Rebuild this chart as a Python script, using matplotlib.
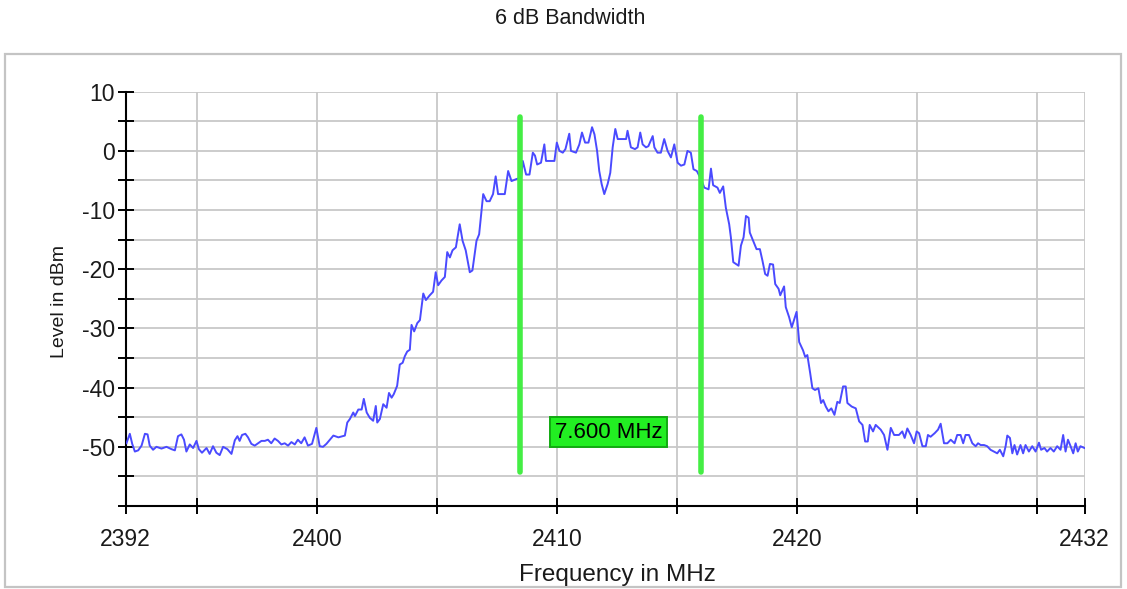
import matplotlib
matplotlib.use('Agg')
import matplotlib.pyplot as plt
from matplotlib.patches import Rectangle
from matplotlib.ticker import MultipleLocator

plt.rcParams['font.family'] = ['Liberation Sans', 'DejaVu Sans']

# ---- data ----
freq_mhz = [
    2392.04, 2392.18, 2392.28, 2392.39, 2392.53, 2392.67, 2392.81, 2392.92, 2393.01, 2393.15,
    2393.29, 2393.50, 2393.71, 2393.92, 2394.06, 2394.19, 2394.33, 2394.44, 2394.54, 2394.68,
    2394.82, 2394.96, 2395.06, 2395.19, 2395.38, 2395.51, 2395.65, 2395.79, 2395.93, 2396.07,
    2396.25, 2396.42, 2396.56, 2396.67, 2396.76, 2396.86, 2397.00, 2397.11, 2397.25, 2397.39,
    2397.53, 2397.67, 2397.81, 2397.94, 2398.08, 2398.22, 2398.36, 2398.50, 2398.64, 2398.78,
    2398.92, 2399.06, 2399.19, 2399.33, 2399.47, 2399.61, 2399.78, 2399.96, 2400.10, 2400.24,
    2400.38,
    2400.67, 2400.88, 2401.15, 2401.25, 2401.36, 2401.50, 2401.57, 2401.71, 2401.85, 2401.94,
    2402.06, 2402.19, 2402.33, 2402.44, 2402.50, 2402.61, 2402.75, 2402.89, 2402.99, 2403.10,
    2403.19, 2403.33, 2403.44, 2403.56, 2403.65, 2403.75, 2403.86, 2403.93, 2404.04, 2404.17,
    2404.28, 2404.42, 2404.53, 2404.69, 2404.83, 2404.94, 2405.04, 2405.18, 2405.32, 2405.42,
    2405.53, 2405.64, 2405.78, 2405.94, 2406.06, 2406.19, 2406.36, 2406.47, 2406.64, 2406.75,
    2406.92, 2407.06, 2407.19, 2407.33, 2407.44, 2407.54, 2407.68, 2407.82, 2407.96, 2408.10,
    2408.28,
    2408.50, 2408.57, 2408.71, 2408.85, 2408.99, 2409.08, 2409.17, 2409.33, 2409.47, 2409.54,
    2409.75, 2409.89, 2409.99, 2410.10, 2410.24, 2410.35, 2410.51, 2410.58, 2410.79, 2410.93,
    2411.04, 2411.17, 2411.31, 2411.46, 2411.56, 2411.67, 2411.76, 2411.86, 2411.97, 2412.11,
    2412.22, 2412.32, 2412.43, 2412.53, 2412.74, 2412.88, 2412.94, 2413.08, 2413.25, 2413.36,
    2413.47, 2413.57, 2413.71, 2413.81, 2413.99, 2414.06, 2414.19, 2414.33, 2414.47, 2414.61,
    2414.75, 2414.89, 2415.03, 2415.17, 2415.31, 2415.44, 2415.58, 2415.69, 2415.83, 2415.97,
    2416.04, 2416.14, 2416.32, 2416.42, 2416.51, 2416.69, 2416.79, 2416.93, 2417.04, 2417.18,
    2417.25, 2417.35, 2417.46, 2417.57, 2417.67, 2417.78, 2417.88, 2417.99, 2418.04, 2418.18,
    2418.32, 2418.46, 2418.57, 2418.68, 2418.78, 2418.88, 2419.01, 2419.10, 2419.24, 2419.31,
    2419.47, 2419.54, 2419.68, 2419.79, 2419.99, 2420.10, 2420.26, 2420.35, 2420.44, 2420.56,
    2420.65, 2420.76, 2420.90, 2421.01, 2421.10, 2421.21, 2421.32, 2421.44, 2421.57, 2421.69,
    2421.79, 2421.93, 2422.04, 2422.11, 2422.29, 2422.46, 2422.60, 2422.74, 2422.85, 2422.96,
    2423.04, 2423.18, 2423.29, 2423.50, 2423.64, 2423.78, 2423.92, 2424.06, 2424.19,
    2424.26, 2424.40, 2424.50, 2424.61, 2424.75, 2424.89, 2425.00, 2425.10, 2425.24, 2425.38,
    2425.47, 2425.58, 2425.75, 2425.89, 2426.00, 2426.14, 2426.28, 2426.42, 2426.58, 2426.69,
    2426.83, 2426.94, 2427.04, 2427.18, 2427.32, 2427.46, 2427.56, 2427.67, 2427.81, 2427.94,
    2428.08, 2428.22, 2428.36, 2428.47, 2428.61, 2428.71, 2428.78, 2428.89, 2428.99, 2429.08,
    2429.19, 2429.33, 2429.44, 2429.54, 2429.68, 2429.82, 2429.96, 2430.10, 2430.19, 2430.33,
    2430.44, 2430.58, 2430.72, 2430.86, 2431.00, 2431.11, 2431.21, 2431.31, 2431.42, 2431.53,
    2431.63, 2431.72, 2431.83, 2432.00,
]
level_dbm = [
    -49.4, -47.8, -49.5, -50.8, -50.6, -49.8, -47.8, -47.9, -49.8, -50.5,
    -50.0, -50.3, -50.0, -50.4, -50.6, -48.2, -47.9, -48.8, -50.8, -49.6,
    -50.2, -49.0, -50.4, -51.0, -50.2, -51.2, -49.9, -51.0, -51.4, -50.0,
    -50.4, -51.2, -48.9, -48.2, -49.0, -48.0, -47.8, -48.4, -49.5, -49.8,
    -49.4, -49.0, -49.0, -48.8, -49.4, -48.6, -49.0, -49.6, -49.4, -49.8,
    -49.2, -49.6, -48.8, -49.4, -48.4, -49.8, -49.5, -46.8, -49.9, -50.0,
    -49.5,
    -48.1, -48.4, -48.1, -45.9, -45.3, -44.2, -44.8, -43.7, -43.7, -41.9,
    -44.2, -45.1, -45.6, -43.1, -45.9, -45.3, -42.8, -43.4, -40.9, -41.7,
    -41.1, -39.7, -36.1, -35.8, -34.7, -33.9, -33.6, -29.4, -30.5, -29.1,
    -28.6, -24.1, -25.2, -24.4, -23.8, -20.5, -22.7, -21.9, -21.3, -17.1,
    -18.0, -16.8, -16.3, -12.4, -15.2, -16.8, -20.5, -20.2, -15.2, -14.1,
    -7.3, -8.5, -8.5, -7.3, -4.3, -7.3, -7.3, -7.3, -3.4, -5.1,
    -4.8,
    -4.5, -1.7, -4.0, -4.0, -0.3, -0.8, -2.3, -2.0, 1.1, -1.7,
    -1.7, -1.7, 1.4, 0.0, -0.3, 0.3, 2.9, 0.0, -0.3, 1.1,
    3.1, 1.4, 1.4, 4.0, 2.8, 0.0, -3.4, -5.6, -7.3, -5.6,
    -3.7, 0.6, 3.7, 2.0, 2.0, 2.0, 3.4, 0.6, 0.3, 0.6,
    3.1, 1.1, 0.6, 0.8, 2.5, 0.6, -0.3, -0.3, 2.0, 0.0,
    -1.1, 1.1, -2.0, -2.5, -2.3, 0.0, -0.3, -3.1, -3.4, -4.5,
    -5.1, -6.2, -6.5, -3.0, -5.8, -6.2, -7.1, -6.0, -9.6, -12.4,
    -14.6, -18.8, -19.1, -19.4, -16.0, -14.6, -11.0, -11.3, -13.8, -15.2,
    -16.6, -16.6, -18.6, -20.8, -21.1, -19.1, -19.2, -22.5, -23.3, -24.4,
    -22.9, -26.4, -28.1, -29.8, -27.2, -32.3, -33.7, -34.8, -34.5, -37.6,
    -40.1, -40.4, -40.1, -42.6, -42.1, -43.2, -44.0, -43.5, -44.6, -42.4,
    -42.6, -39.8, -39.8, -42.6, -43.2, -43.5, -45.7, -46.3, -49.1, -49.1,
    -46.3, -47.4, -46.3, -47.1, -48.0, -50.5, -46.8, -48.0, -48.0,
    -48.0, -47.4, -48.5, -46.9, -48.0, -49.4, -47.4, -47.7, -49.9, -49.9,
    -48.0, -48.3, -47.7, -47.1, -46.1, -49.4, -49.4, -48.8, -49.4, -48.0,
    -48.0, -49.4, -48.0, -48.0, -49.4, -49.9, -49.4, -49.7, -49.7, -49.9,
    -50.5, -50.8, -51.1, -50.5, -51.6, -49.9, -48.1, -48.5, -51.1, -49.7,
    -51.3, -49.7, -51.1, -49.7, -50.8, -49.9, -50.8, -49.3, -50.5, -50.2,
    -50.8, -50.2, -50.8, -49.9, -50.5, -48.0, -50.8, -48.8, -49.9, -51.1,
    -49.4, -50.8, -49.9, -50.2,
]

marker_freqs = [2408.45, 2416.0]
marker_span = (5.8, -54.2)
bandwidth_label = "7.600 MHz"
label_pos = (2412.15, -47.5)

x_tick_pos = [2392, 2395, 2400, 2405, 2410, 2415, 2420, 2425, 2430, 2432]
x_tick_labels = ["2392", "", "2400", "", "2410", "", "2420", "", "", "2432"]
y_tick_pos = [-50, -40, -30, -20, -10, 0, 10]
y_tick_labels = ["-50", "-40", "-30", "-20", "-10", "0", "10"]

title = "6 dB Bandwidth"
x_label = "Frequency in MHz"
y_label = "Level in dBm"

# ---- figure ----
W, H = 1127, 589
fig = plt.figure(figsize=(W / 100, H / 100), dpi=100)
fig.patches.append(Rectangle((5 / W, 1 - 587 / H), 1116 / W, 533 / H, transform=fig.transFigure,
                             fill=False, edgecolor='#c4c4c4', lw=1.6, zorder=0))

ax = fig.add_axes([125.5 / W, 1 - 506 / H, 959 / W, (506 - 91.7) / H])
ax.set_xlim(2392, 2432)
ax.set_ylim(-60, 10)

ax.set_xticks(x_tick_pos)
ax.set_xticklabels(x_tick_labels)
ax.set_yticks(y_tick_pos)
ax.set_yticklabels(y_tick_labels)
ax.yaxis.set_minor_locator(MultipleLocator(5))

ax.grid(True, which='major', axis='x', color='#c8c8c8', lw=1.3, zorder=0)
ax.grid(True, which='both', axis='y', color='#c8c8c8', lw=1.3, zorder=0)
ax.set_axisbelow(True)

for s in ('top', 'right'):
    ax.spines[s].set_visible(False)
for s in ('left', 'bottom'):
    ax.spines[s].set_color('black')
    ax.spines[s].set_linewidth(1.5)

ax.tick_params(axis='both', which='both', direction='inout', length=11.5, width=1.4,
               color='black', labelsize=16.5, labelcolor='#1a1a1a')
ax.tick_params(axis='x', pad=10)
ax.tick_params(axis='y', pad=2)

ax.plot(freq_mhz, level_dbm, color='#4a4aff', lw=1.4, zorder=3)

for mf in marker_freqs:
    ax.plot([mf, mf], list(marker_span), color='#44ee44', lw=4, solid_capstyle='round', zorder=4)

ax.text(label_pos[0], label_pos[1], bandwidth_label, ha='center', va='center', fontsize=16,
        color='black', zorder=5,
        bbox=dict(boxstyle='square,pad=0.2', facecolor='#22ee22', edgecolor='#11aa11', lw=1.4))

fig.text(570 / W, 1 - 18 / H, title, ha='center', va='center', fontsize=15.5, color='#1a1a1a')
fig.text(617 / W, 1 - 575 / H, x_label, ha='center', va='center', fontsize=17.5, color='#1a1a1a')
fig.text(60 / W, 1 - 302 / H, y_label, ha='center', va='center', rotation=90, fontsize=14,
         color='#1a1a1a')

fig.savefig('out.png', dpi=100)
